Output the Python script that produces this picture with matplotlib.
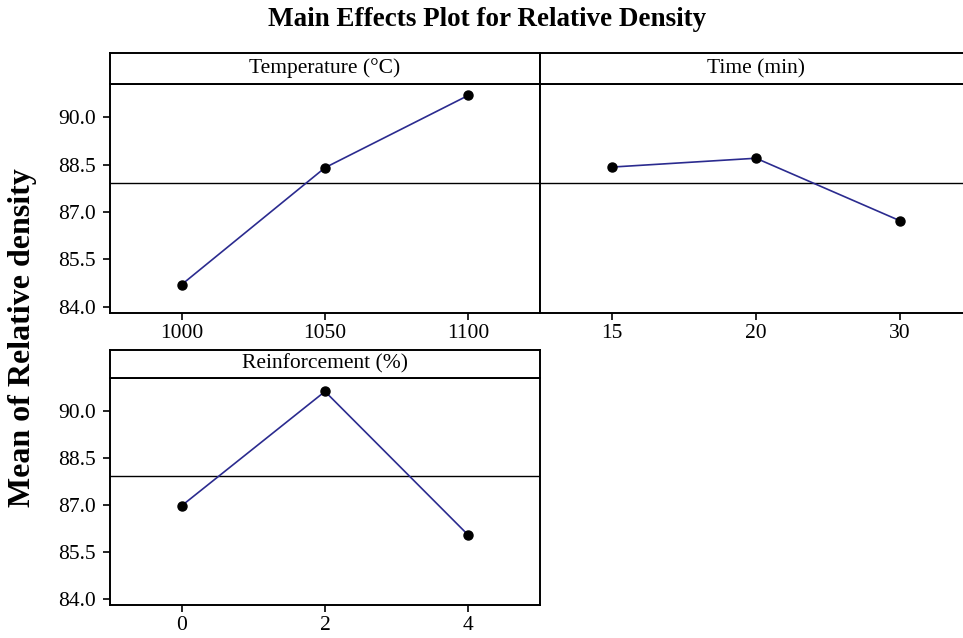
import matplotlib
matplotlib.use("Agg")
import matplotlib.pyplot as plt

plt.rcParams['font.family'] = ['Liberation Serif', 'DejaVu Serif']

temp_levels = ["1000", "1050", "1100"]
temp_means = [84.70, 88.40, 90.69]
time_levels = ["15", "20", "30"]
time_means = [88.42, 88.70, 86.72]
reinf_levels = ["0", "2", "4"]
reinf_means = [86.97, 90.62, 86.03]
grand_mean = 87.93
y_ticks = [84.0, 85.5, 87.0, 88.5, 90.0]
panel_titles = ["Temperature (°C)", "Time (min)", "Reinforcement (%)"]

W, H = 963, 638
fig = plt.figure(figsize=(W / 100, H / 100), dpi=100)

def px_axes(left, top, right, bottom):
    return fig.add_axes([left / W, 1 - bottom / H, (right - left) / W, (bottom - top) / H])

line_color = "#2b2b8f"
ylim = (83.8, 91.05)

def panel(left, right, htop, hbot, bottom, title, levels, means, show_y):
    ax = px_axes(left, hbot, right, bottom)
    x = list(range(len(levels)))
    ax.axhline(grand_mean, color="black", lw=1.0, zorder=1)
    ax.plot(x, means, color=line_color, lw=1.2, zorder=2)
    ax.plot(x, means, "o", color="black", ms=6.5, zorder=3)
    ax.set_xlim(-0.5, 2.5)
    ax.set_ylim(*ylim)
    ax.set_xticks(x)
    ax.set_xticklabels(levels)
    ax.set_yticks(y_ticks)
    ax.set_yticklabels([f"{v:.1f}" for v in y_ticks])
    ax.tick_params(axis="both", labelsize=15.5, length=5, width=1.2, direction="out", pad=5)
    ax.tick_params(axis="x", pad=3)
    if not show_y:
        ax.tick_params(axis="y", left=False, labelleft=False)
    for s in ax.spines.values():
        s.set_linewidth(1.4)
    hx = px_axes(left, htop, right, hbot)
    hx.set_xticks([])
    hx.set_yticks([])
    for s in hx.spines.values():
        s.set_linewidth(1.4)
    hx.text(0.5, 0.5, title, ha="center", va="center", fontsize=15.5, transform=hx.transAxes)
    return ax

panel(110, 540, 53, 84, 313, panel_titles[0], temp_levels, temp_means, True)
panel(540, 972, 53, 84, 313, panel_titles[1], time_levels, time_means, False)
panel(110, 540, 350, 378, 605, panel_titles[2], reinf_levels, reinf_means, True)

fig.text(487 / W, 1 - 20 / H, "Main Effects Plot for Relative Density", ha="center", va="center",
         fontsize=19.5, fontweight="bold")
fig.text(23 / W, 1 - 338 / H, "Mean of Relative density", ha="center", va="center",
         rotation=90, fontsize=23, fontweight="bold")

fig.savefig("out.png", dpi=100)
